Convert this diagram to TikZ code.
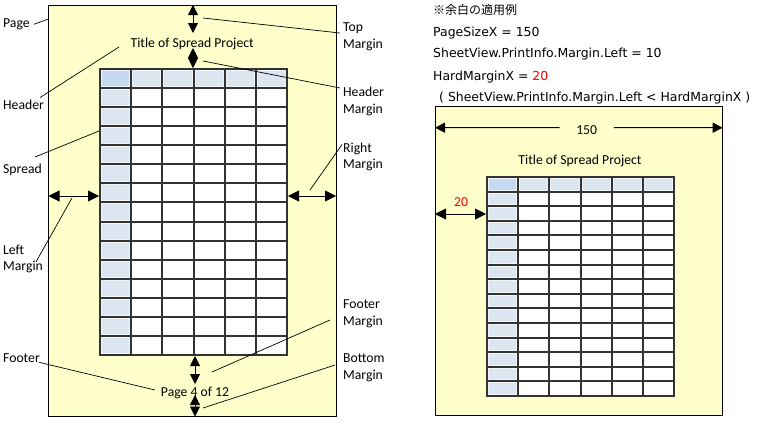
\documentclass[tikz,border=0pt]{standalone}
\usepackage{fontspec}
\setmainfont{Carlito}
\newfontfamily\infofont{DejaVu Sans}
\newfontfamily\jpfont{Noto Sans CJK JP}
\usetikzlibrary{arrows.meta}
\definecolor{pagefill}{HTML}{FFFFCC}
\definecolor{hdrblue}{HTML}{DCE6F1}
\definecolor{cornerblue}{HTML}{C5D9F1}
\definecolor{gridcol}{HTML}{333333}
\definecolor{redtxt}{HTML}{FF0000}
% #1,#2 = top-left (integers), #3 = column width, #4 = row height
\newcommand{\sheetgrid}[4]{%
  \pgfmathsetmacro{\gxa}{round(#1+6*#3)}%
  \pgfmathsetmacro{\gya}{round(#2+15*#4)}%
  \pgfmathsetmacro{\gxb}{round(#1+#3)}%
  \pgfmathsetmacro{\gyb}{round(#2+#4)}%
  \fill[white] (#1,#2) rectangle (\gxa,\gya);
  \fill[hdrblue] (#1,#2) rectangle (\gxb,\gya);
  \fill[hdrblue] (#1,#2) rectangle (\gxa,\gyb);
  \fill[cornerblue] (#1,#2) rectangle (\gxb,\gyb);
  \foreach \i in {0,...,5} {%
    \pgfmathsetmacro{\ca}{round(#1+\i*#3)+1.5}%
    \pgfmathsetmacro{\cb}{round(#1+(\i+1)*#3)-1.5}%
    \draw[hilite] (\ca,#2+1.5) rectangle (\cb,\gyb-1.5);
  }
  \foreach \j in {1,...,14} {%
    \pgfmathsetmacro{\ra}{round(#2+\j*#4)+1.5}%
    \pgfmathsetmacro{\rb}{round(#2+(\j+1)*#4)-1.5}%
    \draw[hilite] (#1+1.5,\ra) rectangle (\gxb-1.5,\rb);
  }
  \foreach \i in {0,...,6} {%
    \pgfmathsetmacro{\gx}{round(#1+\i*#3)}%
    \draw[gridln] (\gx,#2) -- (\gx,\gya);
  }
  \foreach \j in {0,...,15} {%
    \pgfmathsetmacro{\gy}{round(#2+\j*#4)}%
    \draw[gridln] (#1,\gy) -- (\gxa,\gy);
  }
}
\begin{document}
\begin{tikzpicture}[x=1pt,y=-1pt,
  pagebox/.style={draw=black, line width=1pt, fill=pagefill, inner sep=0pt, outer sep=0pt, anchor=north west},
  gridln/.style={draw=gridcol, line width=2pt, line cap=rect},
  hilite/.style={draw=white!60!hdrblue, line width=1pt},
  lbl/.style={font=\fontsize{13.7}{16.5}\selectfont, inner sep=0pt, align=left, anchor=north west},
  ttl/.style={font=\fontsize{13.7}{16.5}\selectfont, inner sep=0pt, anchor=base},
  info/.style={font=\infofont\fontsize{12.45}{15}\selectfont, inner sep=0pt, anchor=base west},
  conn/.style={draw=black, line width=0.7pt},
  dimv/.style={draw=black, line width=0.9pt, {Triangle[length=10pt,width=10pt]}-{Triangle[length=10pt,width=10pt]}},
  dimh/.style={draw=black, line width=0.9pt, {Triangle[length=11pt,width=11pt]}-{Triangle[length=11pt,width=11pt]}},
  dimone/.style={draw=black, line width=0.9pt, -{Triangle[length=10pt,width=10pt]}},
]
\useasboundingbox (0,0) rectangle (760,426);

% ---------------- left page ----------------
\node[pagebox, minimum width=287.5pt, minimum height=411.5pt] (lpage) at (48.5,5) {};
\sheetgrid{100}{69}{31.17}{19.07}
\node[ttl] (ltitle) at (192.2,47.3) {Title of Spread Project};
\node[ttl] (lfooter) at (195,396) {Page 4 of 12};

% dimension arrows
\coordinate (tmA) at (193,5);   \coordinate (tmB) at (193,33);
\coordinate (hmA) at (193,48);  \coordinate (hmB) at (193,68);
\coordinate (lmA) at (48.5,196); \coordinate (lmB) at (99,196);
\coordinate (rmA) at (288,196); \coordinate (rmB) at (336,196);
\coordinate (fmA) at (195,356); \coordinate (fmB) at (195,384);
\coordinate (bmA) at (195,395); \coordinate (bmB) at (195,416.5);
\draw[dimv] (tmA) -- (tmB);
\draw[dimv] (hmA) -- (hmB);
\draw[dimh] (lmA) -- (lmB);
\draw[dimh] (rmA) -- (rmB);
\draw[dimv] (fmA) -- (fmB);
\draw[dimv] (bmA) -- (bmB);

% labels
\node[lbl] (lPage) at (3,18.5) {Page};
\node[lbl] (lHeadL) at (3,99.5) {Header};
\node[lbl] (lSpread) at (3,164) {Spread};
\node[lbl] (lLeftM) at (3,244.5) {Left\\Margin};
\node[lbl] (lFootL) at (3,354) {Footer};
\node[lbl] (lTopM) at (343,23) {Top\\Margin};
\node[lbl] (lHdrM) at (343,87) {Header\\Margin};
\node[lbl] (lRightM) at (343,142.5) {Right\\Margin};
\node[lbl] (lFootM) at (343,300) {Footer\\Margin};
\node[lbl] (lBotM) at (343,354) {Bottom\\Margin};

% connector ends
\coordinate (cHeadL) at (119,47);
\coordinate (cSpread) at (99,131);
\coordinate (cLeftM) at (72,198);
\coordinate (cFootL) at (155,390);
\coordinate (cTopM) at (203,18);
\coordinate (cHdrM) at (203,61);
\coordinate (cRightM) at (310,190);
\coordinate (cFootM) at (212,372);
\coordinate (cBotM) at (203,408);

\draw[conn] ([xshift=4pt]lPage.east) -- ([yshift=-14pt]lpage.north west);
\draw[conn] ([xshift=-4pt,yshift=2pt]lHeadL.north east) -- (cHeadL);
\draw[conn] ([xshift=-7pt,yshift=7pt]lSpread.north east) -- (cSpread);
\draw[conn] ([xshift=-7pt,yshift=-3pt]lLeftM.east) -- (cLeftM);
\draw[conn] ([xshift=-1pt,yshift=1pt]lFootL.south east) -- (cFootL);
\draw[conn] ([xshift=-3pt,yshift=-10pt]lTopM.north west) -- (cTopM);
\draw[conn] ([xshift=-3pt,yshift=-1pt]lHdrM.north west) -- (cHdrM);
\draw[conn] ([xshift=-1pt,yshift=-2pt]lRightM.north west) -- (cRightM);
\draw[conn] ([xshift=-13pt,yshift=-6pt]lFootM.west) -- (cFootM);
\draw[conn] ([xshift=-8pt,yshift=3pt]lBotM.west) -- (cBotM);

% ---------------- right side text ----------------
\node[inner sep=0pt, anchor=base west, font=\jpfont\fontsize{12}{14}\selectfont] (iNote) at (433,14) {※余白の適用例};
\node[info] (iSize) at (433,36) {PageSizeX = 150};
\node[info] (iLeft) at (433,57.5) {SheetView.PrintInfo.Margin.Left = 10};
\node[info] (iHard) at (433,80) {HardMarginX = \textcolor{redtxt}{20}};
\node[info] (iCond) at (439,101.7) {( SheetView.PrintInfo.Margin.Left < HardMarginX )};

% ---------------- right page ----------------
\node[pagebox, minimum width=287.7pt, minimum height=308.3pt] (rpage) at (435,106.7) {};
\sheetgrid{487}{177}{31.23}{14.6}
\node[ttl] (rtitle) at (580,164) {Title of Spread Project};
\node[ttl, minimum width=54pt] (n150) at (586.7,134.7) {150};
\node[ttl, text=redtxt] (n20) at (461,206) {20};

\coordinate (wA) at (435,127.7); \coordinate (wB) at (722.7,127.7);
\draw[dimone] ([yshift=2.7pt]n150.west) -- (wA);
\draw[dimone] ([yshift=2.7pt]n150.east) -- (wB);
\coordinate (hA) at (435,214); \coordinate (hB) at (486,214);
\draw[dimh] (hA) -- (hB);
\end{tikzpicture}
\end{document}
